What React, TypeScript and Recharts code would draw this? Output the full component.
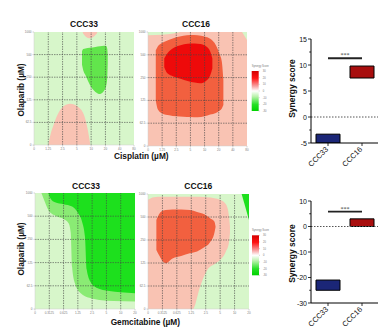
import React from 'react';
import {
  ComposedChart,
  Area,
  XAxis,
  YAxis,
  CartesianGrid,
  ReferenceLine,
  BarChart,
  Bar,
  Cell,
} from 'recharts';

// ---------- tick labels ----------
const cisplatinTicks = ['0', '1.25', '2.5', '5', '10', '20', '40', '80'];
const gemcitabineTicks = ['0', '0.3125', '0.625', '1.25', '2.5', '5', '10', '20'];
const olaparibTicks = ['0', '62.5', '125', '250', '500', '1000'];
const legendTicks = ['30', '20', '10', '0', '-10', '-20', '-30'];

// ---------- contour regions: [x index, low y index, high y index] ----------
type Pt = [number, number, number];

const cisCCC33AntagonismTop: Pt[] = [
  [3.42, 4.96, 5], [3.65, 4.78, 5], [3.9, 4.72, 5], [4.15, 4.78, 5], [4.42, 4.96, 5],
];
const cisCCC33Synergy: Pt[] = [
  [3.36, 3.55, 4.15], [3.45, 3.3, 4.25], [3.6, 3.1, 4.27], [3.9, 2.68, 4.3], [4.3, 2.35, 4.34],
  [4.62, 2.26, 4.37], [4.9, 2.4, 4.39], [5.05, 2.6, 4.38], [5.13, 3.0, 4.25], [5.16, 3.6, 4.0],
];
const cisCCC33AntagonismBottom: Pt[] = [
  [1.02, 0, 0.05], [1.15, 0, 0.45], [1.35, 0, 0.85], [1.7, 0, 1.4], [2.05, 0, 1.7],
  [2.52, 0, 1.82], [3.1, 0, 1.68], [3.57, 0, 1.2], [3.8, 0, 0.55], [3.93, 0, 0.05],
];

const cisCCC16StripTop: Pt[] = [[0, 4.86, 5], [1.0, 4.88, 5], [1.8, 4.93, 5], [2.3, 5, 5]];
const cisCCC16StripCorner: Pt[] = [[6.65, 5, 5], [7, 4.65, 5]];
const cisCCC16Moderate: Pt[] = [
  [0.55, 2.0, 4.2], [0.7, 1.6, 4.38], [1.0, 1.43, 4.52], [1.5, 1.35, 4.66], [2.0, 1.3, 4.77],
  [2.5, 1.28, 4.84], [3.0, 1.27, 4.87], [3.5, 1.26, 4.86], [4.0, 1.3, 4.8], [4.4, 1.38, 4.7],
  [4.8, 1.45, 4.42], [5.05, 1.55, 4.05], [5.22, 1.65, 3.7], [5.33, 1.8, 2.9],
];
const cisCCC16Strong: Pt[] = [
  [1.15, 3.45, 3.85], [1.35, 3.2, 4.05], [1.8, 3.05, 4.3], [2.3, 2.95, 4.42], [2.8, 2.85, 4.48],
  [3.3, 2.78, 4.5], [3.7, 2.75, 4.47], [4.1, 2.85, 4.38], [4.4, 3.1, 4.15], [4.55, 3.4, 3.85],
];

const gemCCC33Moderate: Pt[] = [
  [0.45, 5, 5], [0.7, 4.6, 5], [1.0, 4.2, 5], [1.5, 4.0, 5], [2.0, 3.88, 5], [2.35, 3.7, 5],
  [2.5, 3.3, 5], [2.6, 1.8, 5], [2.8, 1.1, 5], [3.2, 0.68, 5], [3.8, 0.48, 5], [4.5, 0.39, 5],
  [5.5, 0.34, 5], [7.0, 0.32, 5],
];
const gemCCC33Strong: Pt[] = [
  [0.93, 5, 5], [1.1, 4.75, 5], [1.4, 4.6, 5], [2.0, 4.52, 5], [2.6, 4.42, 5], [3.0, 4.15, 5],
  [3.3, 3.75, 5], [3.5, 3.1, 5], [3.62, 1.7, 5], [3.9, 1.15, 5], [4.3, 0.92, 5], [5.2, 0.78, 5],
  [6.0, 0.72, 5], [7.0, 0.68, 5],
];

const gemCCC16Antagonism: Pt[] = [
  [0, 0, 4.75], [0.4, 0, 4.86], [1, 0, 4.88], [2, 0, 4.88], [3.1, 0, 4.88], [3.6, 0.95, 4.88],
  [4.1, 1.7, 4.86], [4.6, 1.95, 4.82], [5.0, 2.13, 4.75], [5.4, 2.5, 4.55], [5.6, 2.85, 4.1],
  [5.68, 3.3, 3.6],
];
const gemCCC16Moderate: Pt[] = [
  [0.58, 2.57, 3.87], [0.8, 2.3, 4.15], [1.05, 2.05, 4.28], [1.23, 1.99, 4.3], [1.7, 2.2, 4.33],
  [2.3, 2.3, 4.33], [2.9, 2.42, 4.3], [3.4, 2.5, 4.22], [3.9, 2.68, 4.12], [4.3, 2.9, 3.95],
  [4.6, 3.3, 3.8], [4.68, 3.55, 3.6],
];
const gemCCC16StrongCorner: Pt[] = [[6.49, 5, 5], [7, 3.87, 5]];

// ---------- synergy score boxes ----------
const barGroups = ['CCC33', 'CCC16'];
const cisplatinSynergyRange: [number, number][] = [[-5, -3.3], [7.5, 9.8]];
const gemcitabineSynergyRange: [number, number][] = [[-25, -21], [0, 3]];
const cisplatinSigLevel = 11.3;
const gemcitabineSigLevel = 5.8;

// ---------- colours ----------
const C = {
  lightGreen: '#d7f6ca',
  salmon: '#f9c3b3',
  midGreen: '#62e54c',
  orange: '#f2603f',
  red: '#ee0a0a',
  brightGreen: '#1de01d',
  bandGreen: '#8aeb74',
  navy: '#1b2677',
  darkRed: '#a80e0e',
};

const FONT = '"Liberation Sans", Arial, sans-serif';

function buildRows(regions: Pt[][]) {
  const xs = new Set<number>();
  regions.forEach((r) => r.forEach((p) => xs.add(p[0])));
  const sorted = Array.from(xs).sort((a, b) => a - b);
  return sorted.map((x) => {
    const row: any = { x };
    regions.forEach((pts, i) => {
      const p = pts.find((q) => q[0] === x);
      if (p) row['r' + i] = [p[1], p[2]];
    });
    return row;
  });
}

type Region = { pts: Pt[]; color: string };

function Heatmap({
  left, top, plotW, plotH, xLabels, bg, regions,
}: {
  left: number; top: number; plotW: number; plotH: number; xLabels: string[]; bg: string; regions: Region[];
}) {
  const YW = 12, XH = 7, MT = 3, MR = 4;
  const rows = buildRows(regions.map((r) => r.pts));
  const xt = [0, 1, 2, 3, 4, 5, 6, 7];
  const yt = [0, 1, 2, 3, 4, 5];
  return (
    <div style={{ position: 'absolute', left: left - YW, top: top - MT }}>
      <ComposedChart
        width={YW + plotW + MR}
        height={MT + plotH + XH}
        data={rows}
        margin={{ top: MT, right: MR, bottom: 0, left: 0 }}
      >
        <CartesianGrid fill={bg} stroke="none" />
        <XAxis
          dataKey="x"
          type="number"
          domain={[0, 7]}
          ticks={xt}
          interval={0}
          allowDataOverflow
          tickFormatter={(v: number) => xLabels[v]}
          height={XH}
          tick={{ fontSize: 3, fill: '#777', fontFamily: FONT }}
          tickSize={1.5}
          tickMargin={1}
          tickLine={{ stroke: '#aaa', strokeWidth: 0.5 }}
          axisLine={{ stroke: '#ccc', strokeWidth: 0.5 }}
        />
        <YAxis
          type="number"
          domain={[0, 5]}
          ticks={yt}
          interval={0}
          allowDataOverflow
          tickFormatter={(v: number) => olaparibTicks[v]}
          width={YW}
          tick={{ fontSize: 3, fill: '#777', fontFamily: FONT }}
          tickSize={1.5}
          tickMargin={1}
          tickLine={{ stroke: '#aaa', strokeWidth: 0.5 }}
          axisLine={{ stroke: '#ccc', strokeWidth: 0.5 }}
        />
        {regions.map((r, i) => (
          <Area
            key={'r' + i}
            dataKey={'r' + i}
            type="monotone"
            fill={r.color}
            fillOpacity={1}
            stroke="none"
            connectNulls
            dot={false}
            activeDot={false}
            isAnimationActive={false}
          />
        ))}
        {xt.slice(1, 7).map((v) => (
          <ReferenceLine key={'vx' + v} x={v} stroke="#444" strokeWidth={0.6} strokeDasharray="1.5 1" />
        ))}
        {yt.slice(1, 5).map((v) => (
          <ReferenceLine key={'hy' + v} y={v} stroke="#444" strokeWidth={0.6} strokeDasharray="1.5 1" />
        ))}
      </ComposedChart>
    </div>
  );
}

function SynergyBars({
  top, plotH, ranges, domain, ticks, majorStep, sigLevel,
}: {
  top: number; plotH: number; ranges: [number, number][]; domain: [number, number]; ticks: number[];
  majorStep: number; sigLevel: number;
}) {
  const YW = 24, MT = 5, XH = 30, plotW = 68, plotLeft = 310.5;
  const rows = barGroups.map((g, i) => ({ name: g, range: ranges[i] }));
  const colors = [C.navy, C.darkRed];
  const YTick = (props: any) => {
    const { y, payload } = props;
    const v = payload.value as number;
    const major = Math.abs(v % majorStep) < 1e-6;
    return (
      <g>
        <line x1={YW} x2={YW - (major ? 3 : 1.8)} y1={y} y2={y} stroke="#000" strokeWidth={0.8} />
        {major && (
          <text x={YW - 4} y={y} dy={2.5} textAnchor="end" fontSize={7} fill="#111" fontFamily={FONT}>
            {v}
          </text>
        )}
      </g>
    );
  };
  const XTick = (props: any) => {
    const { x, y, payload } = props;
    const tx = x - 3, ty = y - 2;
    return (
      <text
        x={tx}
        y={ty}
        dy={5.3}
        transform={`rotate(-45 ${tx} ${ty})`}
        textAnchor="end"
        fontSize={7.5}
        fill="#111"
        fontFamily={FONT}
      >
        {payload.value}
      </text>
    );
  };
  return (
    <div style={{ position: 'absolute', left: plotLeft - YW, top: top - MT }}>
      <BarChart
        width={YW + plotW}
        height={MT + plotH + XH}
        data={rows}
        margin={{ top: MT, right: 0, bottom: 0, left: 0 }}
      >
        <XAxis
          dataKey="name"
          height={XH}
          interval={0}
          tick={<XTick />}
          tickSize={3}
          tickLine={{ stroke: '#000', strokeWidth: 0.8 }}
          axisLine={{ stroke: '#000', strokeWidth: 1 }}
        />
        <YAxis
          type="number"
          domain={domain}
          ticks={ticks}
          interval={0}
          allowDataOverflow
          width={YW}
          tick={<YTick />}
          tickLine={false}
          axisLine={{ stroke: '#000', strokeWidth: 1 }}
        />
        <ReferenceLine y={0} stroke="#555" strokeWidth={1} strokeDasharray="1.5 1.5" />
        <Bar dataKey="range" barSize={24} stroke="#000" strokeWidth={1} isAnimationActive={false}>
          {rows.map((r, i) => (
            <Cell key={r.name} fill={colors[i]} />
          ))}
        </Bar>
        <ReferenceLine
          segment={[
            { x: barGroups[0], y: sigLevel },
            { x: barGroups[1], y: sigLevel },
          ]}
          stroke="#222"
          strokeWidth={1.8}
          label={{ value: '***', position: 'top', fontSize: 6, fill: '#333', offset: 1 }}
        />
      </BarChart>
    </div>
  );
}

function ColorBar({ x, y, w, h, id }: { x: number; y: number; w: number; h: number; id: string }) {
  return (
    <g>
      <defs>
        <linearGradient id={id} x1="0" y1="0" x2="0" y2="1">
          <stop offset="0%" stopColor="#d40000" />
          <stop offset="18%" stopColor="#ff1414" />
          <stop offset="38%" stopColor="#f7a3a3" />
          <stop offset="50%" stopColor="#ffffff" />
          <stop offset="64%" stopColor="#b8f2aa" />
          <stop offset="84%" stopColor="#24e024" />
          <stop offset="100%" stopColor="#00d200" />
        </linearGradient>
      </defs>
      <text x={x} y={y - 4} fontSize={2.6} fill="#777" fontFamily={FONT}>
        Synergy Score
      </text>
      <rect x={x} y={y} width={w} height={h} fill={`url(#${id})`} />
      {legendTicks.map((t, i) => {
        const ty = y + (h * i) / (legendTicks.length - 1);
        return (
          <g key={t}>
            <line x1={x + w} x2={x + w + 1} y1={ty} y2={ty} stroke="#999" strokeWidth={0.4} />
            <text x={x + w + 4} y={ty + 1} fontSize={2.6} fill="#777" fontFamily={FONT}>
              {t}
            </text>
          </g>
        );
      })}
    </g>
  );
}

export default function App() {
  const titleStyle = { fontFamily: FONT, fontWeight: 700 as const };
  return (
    <div style={{ position: 'absolute', left: 0, top: 0, width: 378, height: 332, background: '#fff', overflow: 'hidden' }}>
      <Heatmap
        left={34} top={32} plotW={100} plotH={113} xLabels={cisplatinTicks} bg={C.lightGreen}
        regions={[
          { pts: cisCCC33AntagonismTop, color: C.salmon },
          { pts: cisCCC33Synergy, color: C.midGreen },
          { pts: cisCCC33AntagonismBottom, color: C.salmon },
        ]}
      />
      <Heatmap
        left={148} top={32} plotW={99} plotH={114} xLabels={cisplatinTicks} bg={C.salmon}
        regions={[
          { pts: cisCCC16StripTop, color: C.lightGreen },
          { pts: cisCCC16StripCorner, color: C.lightGreen },
          { pts: cisCCC16Moderate, color: C.orange },
          { pts: cisCCC16Strong, color: C.red },
        ]}
      />
      <Heatmap
        left={35} top={193} plotW={100} plotH={116} xLabels={gemcitabineTicks} bg={C.lightGreen}
        regions={[
          { pts: gemCCC33Moderate, color: C.bandGreen },
          { pts: gemCCC33Strong, color: C.brightGreen },
        ]}
      />
      <Heatmap
        left={148} top={194} plotW={101} plotH={115} xLabels={gemcitabineTicks} bg={C.lightGreen}
        regions={[
          { pts: gemCCC16Antagonism, color: C.salmon },
          { pts: gemCCC16Moderate, color: C.orange },
          { pts: gemCCC16StrongCorner, color: C.brightGreen },
        ]}
      />
      <SynergyBars
        top={39} plotH={104} ranges={cisplatinSynergyRange} domain={[-5, 15]}
        ticks={[-5, -2.5, 0, 2.5, 5, 7.5, 10, 12.5, 15]} majorStep={5} sigLevel={cisplatinSigLevel}
      />
      <SynergyBars
        top={201} plotH={102} ranges={gemcitabineSynergyRange} domain={[-30, 10]}
        ticks={[-30, -25, -20, -15, -10, -5, 0, 5, 10]} majorStep={10} sigLevel={gemcitabineSigLevel}
      />
      <svg width={378} height={332} style={{ position: 'absolute', left: 0, top: 0, pointerEvents: 'none' }}>
        <g style={titleStyle} fill="#111">
          <text x={84} y={27.3} fontSize={8.5} textAnchor="middle">CCC33</text>
          <text x={196} y={26.8} fontSize={8.5} textAnchor="middle">CCC16</text>
          <text x={86} y={189} fontSize={8.5} textAnchor="middle">CCC33</text>
          <text x={198.3} y={189} fontSize={8.5} textAnchor="middle">CCC16</text>
          <text x={141.3} y={158.5} fontSize={8.3} textAnchor="middle">Cisplatin (µM)</text>
          <text x={145.3} y={325} fontSize={8.3} textAnchor="middle">Gemcitabine (µM)</text>
          <text transform="translate(23.5 90) rotate(-90)" fontSize={8.3} textAnchor="middle">Olaparib (µM)</text>
          <text transform="translate(23.5 249) rotate(-90)" fontSize={8.3} textAnchor="middle">Olaparib (µM)</text>
          <text transform="translate(295.2 88.5) rotate(-90)" fontSize={8.5} textAnchor="middle">Synergy score</text>
          <text transform="translate(294.6 253.5) rotate(-90)" fontSize={8.5} textAnchor="middle">Synergy score</text>
        </g>
        <ColorBar x={251.7} y={71} w={7} h={40} id="cbTop" />
        <ColorBar x={252} y={235.3} w={7} h={40} id="cbBottom" />
      </svg>
    </div>
  );
}
